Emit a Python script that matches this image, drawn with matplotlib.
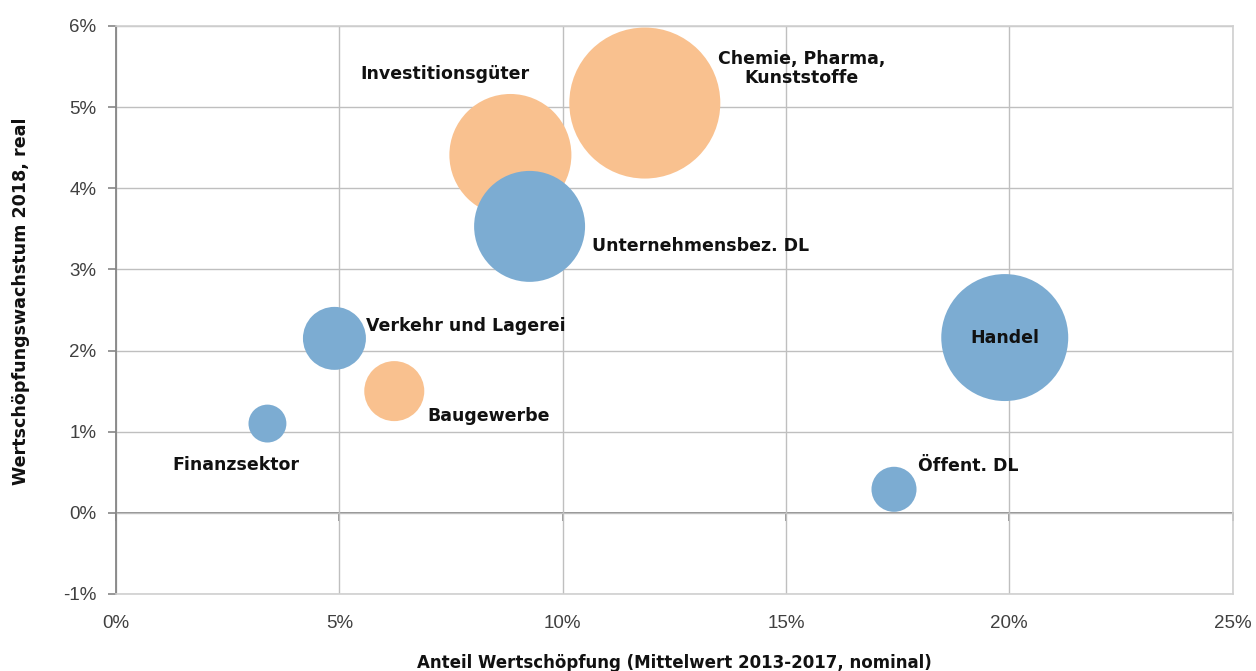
import matplotlib
matplotlib.use("Agg")
import matplotlib.pyplot as plt
from matplotlib.ticker import FuncFormatter, MultipleLocator
from matplotlib import font_manager

# ---- data ----
sectors = ["Chemie, Pharma,\nKunststoffe", "Investitionsgüter", "Unternehmensbez. DL",
           "Handel", "Verkehr und Lagerei", "Baugewerbe", "Finanzsektor", "Öffent. DL"]
share_pct = [11.84, 8.83, 9.26, 19.90, 4.89, 6.23, 3.39, 17.42]      # x
growth_pct = [5.05, 4.41, 3.53, 2.16, 2.15, 1.50, 1.10, 0.29]        # y
bubble_size = [100.0, 65.3, 54.0, 70.7, 17.4, 15.8, 6.3, 8.9]        # relative area
group = ["ind", "ind", "dl", "dl", "dl", "ind", "dl", "dl"]

# ---- styling ----
colors = {"ind": "#F9C18F", "dl": "#7CACD2"}
label_offsets = [(113, 25), (-47, 58), (45, -14), (0, 0), (23, 9), (24, -18), (-23, -30), (17, 17)]
label_ha = ["center", "center", "left", "center", "left", "left", "center", "left"]

avail = {f.name for f in font_manager.fontManager.ttflist}
narrow = "Liberation Sans Narrow" if "Liberation Sans Narrow" in avail else "DejaVu Sans"
plt.rcParams["font.family"] = ["Liberation Sans", "DejaVu Sans"]

fig = plt.figure(figsize=(12.56, 6.71), dpi=100)
ax = fig.add_axes([0.0924, 0.1148, 0.8889, 0.8465])

ax.set_xlim(0, 25)
ax.set_ylim(-1, 6)
ax.xaxis.set_major_locator(MultipleLocator(5))
ax.yaxis.set_major_locator(MultipleLocator(1))
ax.xaxis.set_major_formatter(FuncFormatter(lambda v, p: f"{v:.0f}%"))
ax.yaxis.set_major_formatter(FuncFormatter(lambda v, p: f"{v:.0f}%"))
ax.grid(True, color="#BFBFBF", linewidth=1.0)
ax.set_axisbelow(True)

for s in ["top", "right", "bottom"]:
    ax.spines[s].set_color("#D0D0D0")
    ax.spines[s].set_linewidth(1.2)
ax.spines["left"].set_color("#868686")
ax.spines["left"].set_linewidth(1.3)

ax.tick_params(axis="y", direction="out", length=6, width=1.2, color="#868686",
               pad=8, labelsize=13.5, labelcolor="#404040")
ax.tick_params(axis="x", length=0, pad=15, labelsize=13.5, labelcolor="#404040")

# zero line axis with ticks
sec = ax.secondary_xaxis(1 / 7)
sec.spines["bottom"].set_color("#868686")
sec.spines["bottom"].set_linewidth(1.3)
sec.xaxis.set_major_locator(MultipleLocator(5))
sec.tick_params(axis="x", direction="out", length=6, width=1.2, color="#868686", labelbottom=False)

scale = 118.2
ax.scatter(share_pct, growth_pct, s=[b * scale for b in bubble_size],
           c=[colors[g] for g in group], edgecolors="none", zorder=3)

for name, x, y, off, ha in zip(sectors, share_pct, growth_pct, label_offsets, label_ha):
    ax.annotate(name, (x, y), xytext=off, textcoords="offset points", ha=ha, va="center",
                fontsize=12.5, fontweight="bold", family=[narrow, "DejaVu Sans"],
                color="#111111", zorder=4, linespacing=1.1)

ax.set_xlabel("Anteil Wertschöpfung (Mittelwert 2013-2017, nominal)", fontsize=12,
              fontweight="bold", family=[narrow, "DejaVu Sans"], labelpad=16, color="#111111")
ax.set_ylabel("Wertschöpfungswachstum 2018, real", fontsize=12.6, fontweight="bold",
              family=[narrow, "DejaVu Sans"], color="#111111")
ax.yaxis.set_label_coords(-0.077, 0.515)

fig.savefig("out.png", dpi=100)
